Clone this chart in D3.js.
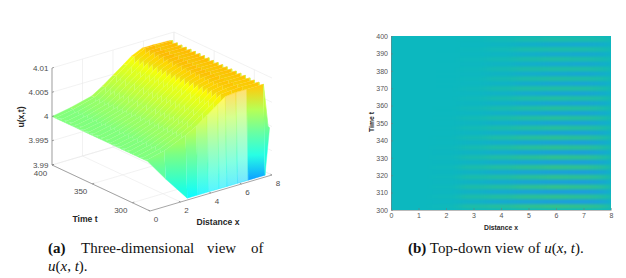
<!DOCTYPE html>
<html>
<head>
<meta charset="utf-8">
<script src="https://d3js.org/d3.v7.min.js"></script>
<style>
    body { margin: 0; background: #ffffff; }
    text { font-family: "Liberation Sans", Arial, sans-serif; fill: #4d4d4d; }
    text.axis-title { font-weight: bold; fill: #262626; }
    text.caption { font-family: "Liberation Serif", serif; font-size: 15px; fill: #111111; }
    .heat-axis path, .heat-axis line { stroke: #777777; stroke-width: 0.5px; }
    .heat-axis text { font-size: 7px; fill: #555555; }
</style>
</head>
<body>
<div id="container"></div>
<script>
    // ---- data ----

    // surface: distance grid, time of each row, u - 4 in units of 1e-4 (low t first)
    const surfaceX = [0, 1.2, 2.6, 3.3, 4, 4.7, 5.2, 5.9, 6.6, 7.7, 8];
    const surfaceT = [281, 283, 285.8, 288.6, 291.5, 294.3, 297.1, 299.9, 302.8, 305.6, 308.4, 311.2, 314.1, 316.9, 319.7,
        322.5, 325.4, 328.2, 331, 333.8, 336.7, 339.5, 342.3, 345.1, 348, 350.8, 353.6, 356.4, 359.3, 362.1, 364.9,
        367.7, 370.6, 373.4, 376.2, 379, 381.9, 384.7, 387.5, 390.3, 393.2, 396, 400];
    const surfaceU = [
        [0, -48, -100, -102, -104, -106, -108, -112, -120, -145, -5],
        [0, 9, 28, 40, 56, 72, 84, 86, 86, 86, -3],
        [0, -9, -26, -38, -52, -66, -76, -82, -84, -88, -2],
        [0, 9, 28, 40, 56, 72, 84, 86, 87, 86, -3],
        [0, -9, -26, -37, -51, -65, -75, -81, -83, -87, -2],
        [0, 9, 27, 40, 56, 72, 83, 86, 87, 86, -3],
        [0, -8, -25, -37, -51, -64, -75, -80, -82, -86, -2],
        [0, 9, 27, 39, 55, 71, 83, 87, 87, 86, -3],
        [0, -8, -24, -36, -50, -63, -74, -79, -81, -85, -2],
        [0, 9, 26, 39, 55, 71, 83, 87, 87, 87, -2],
        [0, -8, -24, -36, -49, -63, -73, -79, -80, -84, -2],
        [0, 8, 26, 39, 55, 71, 82, 87, 87, 87, -2],
        [0, -8, -23, -35, -49, -62, -72, -78, -79, -83, -1],
        [0, 8, 25, 38, 54, 70, 82, 87, 88, 87, -2],
        [0, -8, -22, -34, -48, -61, -71, -77, -78, -82, -1],
        [0, 8, 25, 38, 54, 70, 82, 87, 88, 87, -2],
        [0, -7, -22, -34, -47, -60, -70, -76, -78, -81, -1],
        [0, 8, 24, 38, 54, 69, 81, 88, 88, 87, -2],
        [0, -7, -21, -33, -47, -59, -69, -75, -77, -80, -1],
        [0, 8, 24, 37, 53, 69, 81, 88, 88, 87, -1],
        [0, -7, -21, -33, -46, -59, -68, -74, -76, -79, -1],
        [0, 8, 23, 37, 53, 69, 81, 88, 88, 87, -1],
        [0, -7, -20, -32, -46, -58, -67, -73, -75, -79, -1],
        [0, 8, 23, 36, 53, 68, 80, 88, 88, 87, -1],
        [0, -7, -20, -32, -45, -57, -66, -72, -74, -78, -1],
        [0, 8, 22, 36, 52, 68, 80, 88, 88, 88, -1],
        [0, -7, -19, -31, -45, -57, -66, -72, -74, -78, 0],
        [0, 8, 22, 36, 52, 68, 80, 88, 89, 88, -1],
        [0, -6, -19, -31, -44, -56, -65, -71, -73, -77, 0],
        [0, 7, 21, 35, 52, 67, 79, 88, 89, 88, -1],
        [0, -6, -18, -30, -44, -56, -64, -71, -73, -76, 0],
        [0, 7, 21, 35, 51, 67, 79, 88, 89, 88, 0],
        [0, -6, -18, -30, -43, -55, -64, -70, -72, -76, 0],
        [0, 7, 21, 34, 51, 67, 79, 89, 89, 88, 0],
        [0, -6, -17, -29, -43, -55, -63, -70, -72, -75, 0],
        [0, 7, 20, 34, 51, 66, 79, 89, 89, 88, 0],
        [0, -6, -17, -29, -43, -55, -63, -69, -71, -75, 0],
        [0, 7, 20, 34, 50, 66, 78, 89, 89, 88, 0],
        [0, -6, -17, -28, -42, -54, -62, -69, -71, -74, 0],
        [0, 7, 19, 33, 50, 66, 78, 89, 89, 88, 0],
        [0, -6, -16, -28, -42, -54, -62, -68, -70, -74, 0],
        [0, 7, 19, 33, 50, 66, 78, 89, 89, 88, 0],
        [0, 7, 18, 32, 48, 64, 76, 86, 86, 85, 0]
    ];
    // how much of the front sheet the mesh lines cover, per column (pale where they spread out)
    const frontCoverage = [1, 1, 0.95, 0.8, 0.65, 0.6, 0.6, 0.55, 0.95, 1];

    // top-down view: stripe strength in percent, + green, - blue (low t first)
    const heatX = [2, 3, 4, 5, 6, 7, 7.8];
    const heatT = [302, 304.8, 307.6, 310.5, 313.3, 316.1, 319, 321.8, 324.6, 327.5, 330.3, 333.1, 335.9, 338.8, 341.6,
        344.4, 347.2, 350.1, 352.9, 355.7, 358.5, 361.4, 364.2, 367, 369.8, 372.7, 375.5, 378.3, 381.1, 384,
        386.8, 389.6, 392.4, 395.2, 398];
    const heatValues = [
        [8, 45, 60, 85, 100, 90, 70],
        [-3, -25, -50, -70, -85, -90, -70],
        [8, 40, 55, 75, 85, 75, 55],
        [-3, -25, -50, -70, -85, -90, -70],
        [6, 40, 55, 80, 95, 85, 65],
        [-3, -22, -46, -65, -80, -85, -65],
        [6, 35, 50, 70, 85, 80, 60],
        [-2, -20, -44, -65, -80, -85, -65],
        [5, 35, 55, 75, 90, 85, 60],
        [-2, -18, -42, -60, -75, -80, -60],
        [4, 30, 50, 70, 85, 80, 55],
        [-2, -16, -38, -58, -72, -78, -60],
        [4, 25, 45, 65, 75, 70, 50],
        [-1, -14, -35, -55, -70, -75, -55],
        [3, 22, 45, 65, 75, 70, 50],
        [-1, -12, -32, -52, -68, -72, -55],
        [2, 18, 38, 55, 65, 60, 45],
        [0, -10, -30, -50, -65, -70, -50],
        [2, 18, 38, 55, 65, 60, 45],
        [0, -8, -27, -48, -62, -68, -50],
        [1, 14, 32, 50, 60, 55, 40],
        [0, -6, -24, -45, -60, -65, -48],
        [0, 10, 28, 45, 55, 50, 40],
        [0, -5, -22, -42, -58, -62, -45],
        [0, 10, 28, 45, 50, 50, 35],
        [0, -4, -18, -40, -55, -60, -45],
        [0, 6, 22, 40, 50, 45, 35],
        [0, -3, -16, -38, -52, -58, -42],
        [0, 6, 22, 40, 45, 45, 35],
        [0, -3, -15, -35, -50, -55, -40],
        [0, 5, 18, 35, 45, 40, 30],
        [0, -2, -12, -32, -48, -52, -40],
        [0, 3, 15, 35, 40, 40, 30],
        [0, -2, -10, -30, -45, -50, -38],
        [0, 3, 15, 30, 40, 35, 30]
    ];

    // tick labels
    const zTicks = [3.99, 3.995, 4, 4.005, 4.01];
    const zTickLabels = ["3.99", "3.995", "4", "4.005", "4.01"];
    const tTicks3d = [300, 350, 400];
    const xTicks3d = [0, 2, 4, 6, 8];
    const xTicksHeat = [0, 1, 2, 3, 4, 5, 6, 7, 8];
    const tTicksHeat = [300, 310, 320, 330, 340, 350, 360, 370, 380, 390, 400];

    const svg = d3.select("#container")
        .append("svg")
        .attr("width", 626)
        .attr("height", 278);
    const defs = svg.append("defs");

    // ---- (a) three-dimensional view ----

    // scales go to 0..1 along each box edge, project() puts the box on the page
    const xScale3d = d3.scaleLinear().domain([0, 8]).range([0, 1]);
    const tScale3d = d3.scaleLinear().domain([278, 400]).range([0, 1]);
    const zScale3d = d3.scaleLinear().domain([3.99, 4.01]).range([0, 1]).clamp(true);

    function project(x, t, u) {
        const a = xScale3d(x), b = tScale3d(t), c = zScale3d(u);
        return [150 + 122 * a - 98 * b, 211 - 36 * a - 46 * b - 97 * c];
    }

    const g3d = svg.append("g");
    const boxLine = (p, q, color, width) => g3d.append("line")
        .attr("x1", p[0]).attr("y1", p[1])
        .attr("x2", q[0]).attr("y2", q[1])
        .attr("stroke", color)
        .attr("stroke-width", width);

    const gridColor = "#e9e9e9";
    // floor and back walls
    xTicks3d.forEach(x => {
        boxLine(project(x, 278, 3.99), project(x, 400, 3.99), gridColor, 0.6);
        boxLine(project(x, 400, 3.99), project(x, 400, 4.01), gridColor, 0.6);
    });
    tTicks3d.forEach(t => {
        boxLine(project(0, t, 3.99), project(8, t, 3.99), gridColor, 0.6);
        boxLine(project(8, t, 3.99), project(8, t, 4.01), gridColor, 0.6);
    });
    zTicks.forEach(z => {
        boxLine(project(0, 400, z), project(8, 400, z), gridColor, 0.6);
        boxLine(project(8, 400, z), project(8, 278, z), gridColor, 0.6);
    });

    // jet colours, stretched so that u = 4 is green, 4.0075 yellow and the plateau orange
    const jetPosition = d3.scaleLinear()
        .domain([-145, -100, 0, 75, 90])
        .range([0.25, 0.375, 0.5, 0.62, 0.70])
        .clamp(true);
    function jet(dev) {
        const v = jetPosition(dev);
        const c = k => Math.round(255 * Math.max(0, Math.min(1, 1.5 - Math.abs(4 * v - k))));
        return `rgb(${c(3)},${c(2)},${c(1)})`;
    }
    const uOf = dev => 4 + dev / 10000;

    // painter's order: t = 400 first, front row last
    const surface = g3d.append("g");
    for (let i = surfaceT.length - 2; i >= 0; i--) {
        for (let j = 0; j < surfaceX.length - 1; j++) {
            const d00 = surfaceU[i][j], d01 = surfaceU[i][j + 1];
            const d10 = surfaceU[i + 1][j], d11 = surfaceU[i + 1][j + 1];
            const p00 = project(surfaceX[j], surfaceT[i], uOf(d00));
            const p01 = project(surfaceX[j + 1], surfaceT[i], uOf(d01));
            const p10 = project(surfaceX[j], surfaceT[i + 1], uOf(d10));
            const p11 = project(surfaceX[j + 1], surfaceT[i + 1], uOf(d11));

            // shade from the middle of one row edge to the middle of the other
            const devFrom = (d00 + d01) / 2, devTo = (d10 + d11) / 2;
            const id = `q${i}_${j}`;
            const grad = defs.append("linearGradient")
                .attr("id", id)
                .attr("gradientUnits", "userSpaceOnUse")
                .attr("x1", (p00[0] + p01[0]) / 2).attr("y1", (p00[1] + p01[1]) / 2)
                .attr("x2", (p10[0] + p11[0]) / 2).attr("y2", (p10[1] + p11[1]) / 2);
            [0, 0.25, 0.5, 0.75, 1].forEach(s => {
                grad.append("stop")
                    .attr("offset", s)
                    .attr("stop-color", jet(devFrom + (devTo - devFrom) * s));
            });

            const outline = "M" + [p00, p01, p11, p10].map(p => p.join(",")).join("L") + "Z";
            surface.append("path").attr("d", outline).attr("fill", "#ffffff");
            surface.append("path")
                .attr("d", outline)
                .attr("fill", `url(#${id})`)
                .attr("fill-opacity", i === 0 ? frontCoverage[j] : 1)
                .attr("stroke", `url(#${id})`)
                .attr("stroke-width", 0.4);
        }
    }

    // axes of the box
    const axisColor = "#808080";
    boxLine(project(0, 400, 3.99), project(0, 400, 4.01), axisColor, 0.7);
    boxLine(project(0, 400, 3.99), project(0, 278, 3.99), axisColor, 0.7);
    boxLine(project(0, 278, 3.99), project(8, 278, 3.99), axisColor, 0.7);

    zTicks.forEach((z, i) => {
        const p = project(0, 400, z);
        boxLine(p, [p[0] + 2, p[1] - 0.6], axisColor, 0.7);
        g3d.append("text")
            .attr("x", p[0] - 3.5).attr("y", p[1])
            .attr("text-anchor", "end")
            .attr("dominant-baseline", "central")
            .attr("font-size", 8)
            .text(zTickLabels[i]);
    });
    tTicks3d.forEach(t => {
        const p = project(0, t, 3.99);
        boxLine(p, [p[0] + 2, p[1] - 0.6], axisColor, 0.7);
        g3d.append("text")
            .attr("x", p[0] - 11.5).attr("y", p[1] + 8)
            .attr("text-anchor", "middle")
            .attr("dominant-baseline", "central")
            .attr("font-size", 8)
            .text(t);
    });
    xTicks3d.forEach(x => {
        const p = project(x, 278, 3.99);
        boxLine(p, [p[0] - 1.6, p[1] - 0.8], axisColor, 0.7);
        g3d.append("text")
            .attr("x", p[0] + 6).attr("y", p[1] + 8.5)
            .attr("text-anchor", "middle")
            .attr("dominant-baseline", "central")
            .attr("font-size", 8)
            .text(x);
    });

    g3d.append("text").attr("class", "axis-title")
        .attr("x", 85).attr("y", 219)
        .attr("text-anchor", "middle").attr("dominant-baseline", "central")
        .attr("font-size", 8.6).text("Time t");
    g3d.append("text").attr("class", "axis-title")
        .attr("x", 218).attr("y", 222)
        .attr("text-anchor", "middle").attr("dominant-baseline", "central")
        .attr("font-size", 8.6).text("Distance x");
    g3d.append("text").attr("class", "axis-title")
        .attr("transform", "translate(21,117)rotate(-90)")
        .attr("text-anchor", "middle").attr("dominant-baseline", "central")
        .attr("font-size", 8.6).text("u(x,t)");

    // ---- (b) top-down view ----

    const xHeat = d3.scaleLinear().domain([0, 8]).range([391, 611]);
    const tHeat = d3.scaleLinear().domain([300, 400]).range([210, 36]);
    const heatColor = d3.scaleLinear()
        .domain([-100, 0, 100])
        .range(["#1e9be0", "#0cb8bf", "#34c28a"]);

    // soft edges, the stripes in the picture have no hard borders
    const blur = defs.append("filter")
        .attr("id", "soft")
        .attr("filterUnits", "userSpaceOnUse")
        .attr("x", 360).attr("y", 10).attr("width", 270).attr("height", 225)
        .attr("color-interpolation-filters", "sRGB");
    blur.append("feGaussianBlur").attr("stdDeviation", "6 0.8");

    defs.append("clipPath").attr("id", "heat-clip")
        .append("rect")
        .attr("x", xHeat(0)).attr("y", tHeat(400))
        .attr("width", xHeat(8) - xHeat(0))
        .attr("height", tHeat(300) - tHeat(400));

    const heat = svg.append("g")
        .attr("clip-path", "url(#heat-clip)")
        .append("g")
        .attr("filter", "url(#soft)");

    heat.append("rect")
        .attr("x", xHeat(0) - 30).attr("y", tHeat(400) - 20)
        .attr("width", xHeat(8) - xHeat(0) + 60)
        .attr("height", tHeat(300) - tHeat(400) + 40)
        .attr("fill", heatColor(0));

    const xEdge = j => j === 0 ? 1.5 : (j === heatX.length ? 7.95 : (heatX[j - 1] + heatX[j]) / 2);
    const tEdge = i => i === 0 ? 300.8 : (i === heatT.length ? 399.6 : (heatT[i - 1] + heatT[i]) / 2);
    heatValues.forEach((row, i) => {
        heat.selectAll(null)
            .data(row)
            .enter()
            .append("rect")
            .attr("x", (d, j) => xHeat(xEdge(j)))
            .attr("width", (d, j) => xHeat(xEdge(j + 1)) - xHeat(xEdge(j)))
            .attr("y", tHeat(tEdge(i + 1)))
            .attr("height", tHeat(tEdge(i)) - tHeat(tEdge(i + 1)))
            .attr("fill", d => heatColor(d));
    });

    svg.append("g")
        .attr("class", "heat-axis")
        .attr("transform", "translate(0,210)")
        .call(d3.axisBottom(xHeat).tickValues(xTicksHeat).tickSizeInner(-2).tickSizeOuter(0).tickPadding(3))
        .call(g => g.select(".domain").attr("stroke", "#0cb8bf"))
        .call(g => g.selectAll("line").attr("stroke", "#0cb8bf"));
    svg.append("g")
        .attr("class", "heat-axis")
        .attr("transform", "translate(391,0)")
        .call(d3.axisLeft(tHeat).tickValues(tTicksHeat).tickSizeInner(-2).tickSizeOuter(0).tickPadding(3))
        .call(g => g.select(".domain").attr("stroke", "#0cb8bf"))
        .call(g => g.selectAll("line").attr("stroke", "#0cb8bf"));

    svg.append("text").attr("class", "axis-title")
        .attr("x", 501).attr("y", 227)
        .attr("text-anchor", "middle").attr("dominant-baseline", "central")
        .attr("font-size", 6.8).text("Distance x");
    svg.append("text").attr("class", "axis-title")
        .attr("transform", "translate(371,122)rotate(-90)")
        .attr("text-anchor", "middle").attr("dominant-baseline", "central")
        .attr("font-size", 6.8).text("Time t");

    // ---- captions ----

    const caption = (x, y, parts) => {
        const label = svg.append("text")
            .attr("class", "caption")
            .attr("x", x).attr("y", y);
        parts.forEach(([str, style]) => {
            label.append("tspan")
                .attr("font-weight", style === "b" ? "bold" : null)
                .attr("font-style", style === "i" ? "italic" : null)
                .text(str);
        });
    };
    // the first line is justified in the source, so its words are placed one by one
    caption(48, 253, [["(a)", "b"]]);
    caption(81, 253, [["Three-dimensional"]]);
    caption(207, 253, [["view"]]);
    caption(251, 253, [["of"]]);
    caption(48, 271, [["u", "i"], ["("], ["x", "i"], [", "], ["t", "i"], [")."]]);
    caption(408, 253, [["(b)", "b"], [" Top-down view of "], ["u", "i"], ["("], ["x", "i"], [", "], ["t", "i"], [")."]]);
</script>
</body>
</html>
